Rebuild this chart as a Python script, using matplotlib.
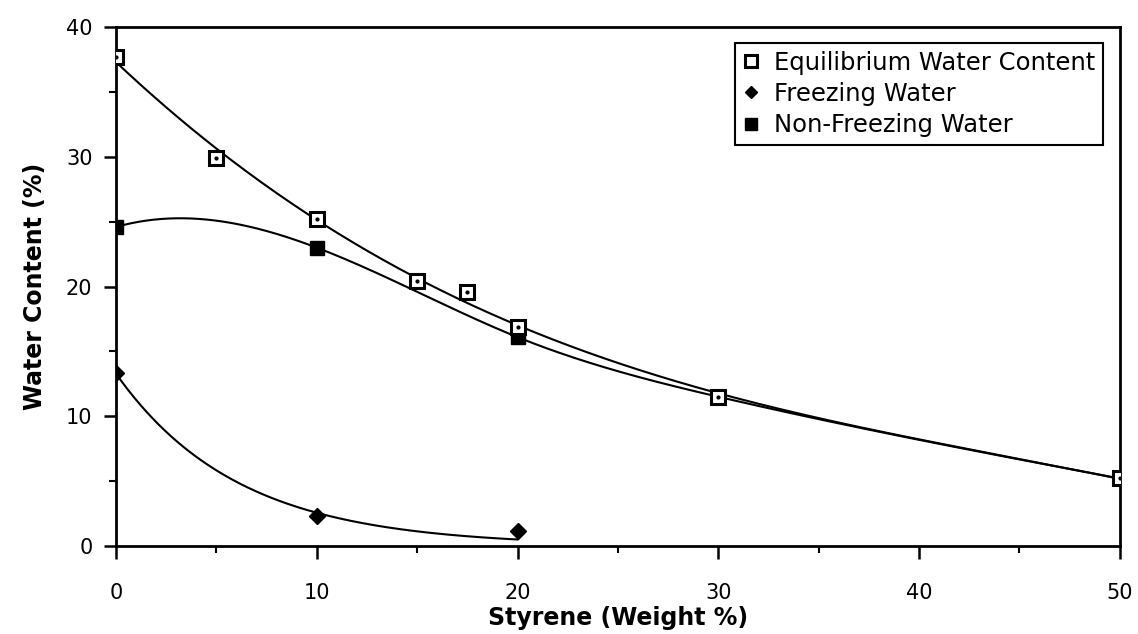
import numpy as np
import matplotlib
matplotlib.use("Agg")
import matplotlib.pyplot as plt
from matplotlib.ticker import MultipleLocator

# data
ewc_x = [0, 5, 10, 15, 17.5, 20, 30, 50]
ewc_y = [37.7, 29.9, 25.2, 20.4, 19.6, 16.9, 11.5, 5.2]
frz_x = [0, 10, 20]
frz_y = [13.3, 2.3, 1.15]
nfz_x = [0, 10, 20, 30, 50]
nfz_y = [24.6, 23.0, 16.1, 11.5, 5.2]

labels = ["Equilibrium Water Content", "Freezing Water", "Non-Freezing Water"]


def exp_fit(x, y):
    # least squares y = a*exp(-b*x) in linear space, b by scan
    x, y = np.asarray(x, float), np.asarray(y, float)
    best = None
    for b in np.linspace(0.001, 1.0, 5000):
        e = np.exp(-b * x)
        a = (y * e).sum() / (e * e).sum()
        r = ((y - a * e) ** 2).sum()
        if best is None or r < best[0]:
            best = (r, a, b)
    return best[1], best[2]


def spline(x, y, xs):
    # cubic spline: not-a-knot on the left end, natural on the right end
    x, y = np.asarray(x, float), np.asarray(y, float)
    knots = x[2:-1]

    def basis(t):
        t = np.atleast_1d(t)
        cols = [t ** 0, t, t ** 2, t ** 3]
        cols += [np.clip(t - k, 0, None) ** 3 for k in knots]
        return np.column_stack(cols)

    def basis_d2(t):
        row = [0.0, 0.0, 2.0, 6 * t] + [6 * max(t - k, 0) for k in knots]
        return np.array(row)

    A = np.vstack([basis(x), basis_d2(x[-1])])
    rhs = np.append(y, 0.0)
    coef = np.linalg.solve(A, rhs)
    return basis(xs) @ coef


plt.rcParams["font.family"] = "DejaVu Sans"

fig = plt.figure(figsize=(11.38, 6.34), dpi=100)
ax = fig.add_axes([0.102, 0.139, 0.882, 0.818])

# trend curves
xs = np.linspace(0, 50, 400)
c_ewc = np.polyfit(ewc_x, ewc_y, 3)
ax.plot(xs, np.polyval(c_ewc, xs), color="black", lw=1.5, zorder=2)

ax.plot(xs, spline(nfz_x, nfz_y, xs), color="black", lw=1.5, zorder=2)

xf = np.linspace(0, 20, 200)
a, b = exp_fit(frz_x, frz_y)
ax.plot(xf, a * np.exp(-b * xf), color="black", lw=1.5, zorder=2)

# markers
ax.plot(ewc_x, ewc_y, ls="none", marker="s", ms=10, mfc="white", mec="black",
        mew=2.2, zorder=4, label=labels[0])
ax.plot(frz_x, frz_y, ls="none", marker="D", ms=8, color="black", zorder=4,
        label=labels[1])
ax.plot(nfz_x, nfz_y, ls="none", marker="s", ms=10, color="black", zorder=3,
        label=labels[2])
ax.plot(ewc_x, ewc_y, ls="none", marker="o", ms=2, color="black", zorder=5)

ax.set_xlim(0, 50)
ax.set_ylim(0, 40)
ax.xaxis.set_major_locator(MultipleLocator(10))
ax.xaxis.set_minor_locator(MultipleLocator(5))
ax.yaxis.set_major_locator(MultipleLocator(10))
ax.yaxis.set_minor_locator(MultipleLocator(5))
ax.tick_params(which="major", direction="out", length=9, width=1.8,
               labelsize=15, pad=8)
ax.tick_params(which="minor", direction="out", length=5, width=1.5)
ax.tick_params(axis="x", pad=18)
for s in ax.spines.values():
    s.set_linewidth(2)

ax.set_xlabel("Styrene (Weight %)", fontsize=17, fontweight="bold", labelpad=2)
ax.set_ylabel("Water Content (%)", fontsize=17, fontweight="bold", labelpad=14)

leg = ax.legend(loc="upper right", bbox_to_anchor=(0.983, 0.969), fontsize=17.5,
                frameon=True, fancybox=False, edgecolor="black", framealpha=1,
                handlelength=0.7, handletextpad=0.6, borderpad=0.3,
                labelspacing=0.3, borderaxespad=0, markerscale=0.8)
leg.get_frame().set_linewidth(1.5)

fig.savefig("out.png", dpi=100, facecolor="white")
